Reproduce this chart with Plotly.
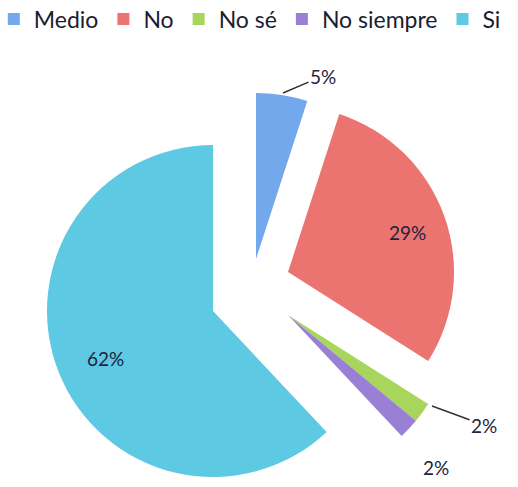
import plotly.graph_objects as go

# Survey answers (percent of respondents)
labels = ["Medio", "No", "No sé", "No siempre", "Si"]
values = [5, 29, 2, 2, 62]
colors = ["#74a8ec", "#ec7470", "#a8d65c", "#9a80d4", "#5ec9e3"]

W, H = 518, 487
R = 166  # slice radius in pixels

# Pixel centre of each exploded group of slices
groups = [
    (["Si"], (213, 311)),
    (["Medio"], (256, 259)),
    (["No"], (288, 272)),
    (["No sé", "No siempre"], (288, 315)),
]


def domain_for(cx, cy, r):
    return dict(
        x=[(cx - r) / W, (cx + r) / W],
        y=[1 - (cy + r) / H, 1 - (cy - r) / H],
    )


fig = go.Figure()

# Legend carrier: full colour set on a vanishingly small pie
fig.add_trace(go.Pie(
    labels=labels, values=values, sort=False, direction="clockwise",
    marker=dict(colors=colors, line=dict(width=0)),
    textinfo="none", hoverinfo="skip", showlegend=True,
    domain=dict(x=[0, 0.0005], y=[0, 0.0005]),
))

for shown, (cx, cy) in groups:
    cols = [c if l in shown else "rgba(0,0,0,0)" for l, c in zip(labels, colors)]
    fig.add_trace(go.Pie(
        labels=labels, values=values, sort=False, direction="clockwise",
        rotation=0,
        marker=dict(colors=cols, line=dict(width=0)),
        textinfo="none", hoverinfo="label+percent", showlegend=False,
        domain=domain_for(cx, cy, R),
    ))

pct = {l: f"{v}%" for l, v in zip(labels, values)}
font = dict(family="Lato, Open Sans, sans-serif", size=19, color="#1f2240")

annotations = [
    dict(text=pct["Si"], x=105, y=358, showarrow=False),
    dict(text=pct["No"], x=407, y=233, showarrow=False),
    dict(text=pct["Medio"], x=283, y=93, ax=40, ay=-17, showarrow=True),
    dict(text=pct["No sé"], x=432, y=406, ax=52, ay=19, showarrow=True),
    dict(text=pct["No siempre"], x=436, y=467, showarrow=False),
]
for a in annotations:
    a["x"] = a["x"] / W
    a["y"] = 1 - a["y"] / H
    a.update(xref="paper", yref="paper", font=font,
             xanchor="center", yanchor="middle")
    if a["showarrow"]:
        a.update(arrowhead=0, arrowwidth=1.5, arrowcolor="#333333", standoff=0)

fig.update_layout(
    width=W, height=H,
    margin=dict(l=0, r=0, t=0, b=0, autoexpand=False),
    paper_bgcolor="white",
    annotations=annotations,
    legend=dict(
        orientation="h", x=-0.012, y=1.005, xanchor="left", yanchor="top",
        font=dict(family="Lato, Open Sans, sans-serif", size=23, color="#1c1c30"),
        itemwidth=30, tracegroupgap=0,
    ),
)

fig.write_html("out.html")
